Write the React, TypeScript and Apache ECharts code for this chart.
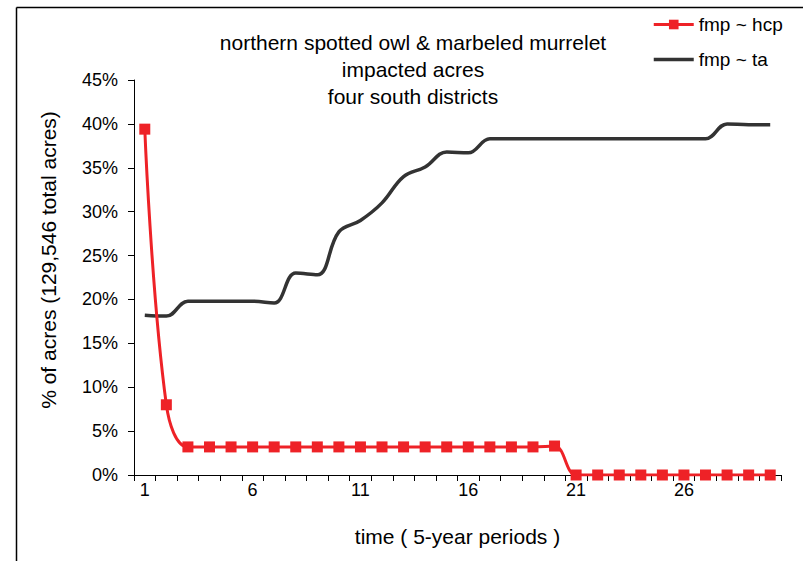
import React, { useEffect, useRef } from "react";
import * as echarts from "echarts";

const categories = Array.from({ length: 30 }, (_, i) => String(i + 1));
const hcpValues = [
  39.4, 8.0, 3.2, 3.2, 3.2, 3.2, 3.2, 3.2, 3.2, 3.2,
  3.2, 3.2, 3.2, 3.2, 3.2, 3.2, 3.2, 3.2, 3.2, 3.3,
  0, 0, 0, 0, 0, 0, 0, 0, 0, 0,
];
const taValues = [
  18.2, 18.1, 19.8, 19.8, 19.8, 19.8, 19.6, 23.0, 22.8, 27.7,
  29.0, 31.0, 34.0, 35.1, 36.8, 36.7, 38.3, 38.3, 38.3, 38.3,
  38.3, 38.3, 38.3, 38.3, 38.3, 38.3, 38.3, 40.0, 39.9, 39.9,
];
const titleLines = [
  "northern spotted owl & marbeled murrelet",
  "impacted acres",
  "four south districts",
];
const seriesNames = ["fmp ~ hcp", "fmp ~ ta"];
const yAxisTitle = "% of acres (129,546 total acres)";
const xAxisTitle = "time ( 5-year periods )";

const FONT = "Liberation Sans, Arial, sans-serif";

export default function App() {
  const ref = useRef<HTMLDivElement>(null);
  useEffect(() => {
    if (!ref.current) return;
    const chart = echarts.init(ref.current, null, { renderer: "svg" });
    chart.setOption({
      animation: false,
      backgroundColor: "#ffffff",
      textStyle: { fontFamily: FONT },
      title: {
        text: titleLines.join("\n"),
        left: 408,
        textAlign: "center",
        top: 24,
        textStyle: {
          fontFamily: FONT,
          fontSize: 21,
          fontWeight: "normal",
          color: "#000",
          lineHeight: 27,
        },
      },
      legend: {
        orient: "vertical",
        left: 647,
        top: 10,
        itemGap: 16,
        itemWidth: 40,
        itemHeight: 12,
        textStyle: { fontFamily: FONT, fontSize: 19, color: "#000" },
        data: [
          { name: seriesNames[0], lineStyle: { width: 3 } },
          { name: seriesNames[1], itemStyle: { opacity: 0 }, lineStyle: { width: 3.5 } },
        ],
      },
      grid: { left: 134, right: 22, top: 80, bottom: 86, containLabel: false },
      xAxis: {
        type: "category",
        data: categories,
        boundaryGap: true,
        name: xAxisTitle,
        nameLocation: "middle",
        nameGap: 51,
        nameTextStyle: { fontFamily: FONT, fontSize: 21, color: "#000" },
        axisLine: { lineStyle: { color: "#000", width: 1 } },
        axisTick: { show: true, interval: 0, length: 6, lineStyle: { color: "#000" } },
        axisLabel: {
          interval: 4,
          fontFamily: FONT,
          fontSize: 18,
          color: "#000",
          margin: 6,
        },
        splitLine: { show: false },
      },
      yAxis: {
        type: "value",
        min: 0,
        max: 45,
        interval: 5,
        axisLine: { show: true, lineStyle: { color: "#000", width: 1 } },
        axisTick: { show: true, length: 6, lineStyle: { color: "#000" } },
        axisLabel: {
          formatter: "{value}%",
          fontFamily: FONT,
          fontSize: 18,
          color: "#000",
          margin: 16,
        },
        splitLine: { show: false },
      },
      graphic: [
        {
          type: "line",
          shape: { x1: 16.5, y1: 7.5, x2: 16.5, y2: 600 },
          style: { stroke: "#000", lineWidth: 1.5 },
          silent: true,
        },
        {
          type: "line",
          shape: { x1: 16.5, y1: 7.5, x2: 900, y2: 7.5 },
          style: { stroke: "#000", lineWidth: 1.5 },
          silent: true,
        },
        {
          type: "text",
          x: 48,
          y: 260,
          rotation: Math.PI / 2,
          style: {
            text: yAxisTitle,
            fontFamily: FONT,
            fontSize: 21,
            fill: "#000",
            align: "center",
            verticalAlign: "middle",
          },
        },
      ],
      series: [
        {
          name: seriesNames[0],
          type: "line",
          data: hcpValues,
          smooth: 0.4,
          symbol: "rect",
          symbolSize: 11,
          itemStyle: { color: "#EE2227" },
          lineStyle: { color: "#EE2227", width: 3 },
          z: 3,
        },
        {
          name: seriesNames[1],
          type: "line",
          data: taValues,
          smooth: 0.4,
          symbol: "none",
          itemStyle: { color: "#333333" },
          lineStyle: { color: "#333333", width: 3.5 },
          z: 2,
        },
      ],
    });
    return () => chart.dispose();
  }, []);
  return (
    <div
      ref={ref}
      style={{ position: "absolute", left: 0, top: 0, width: 803, height: 561 }}
    />
  );
}
